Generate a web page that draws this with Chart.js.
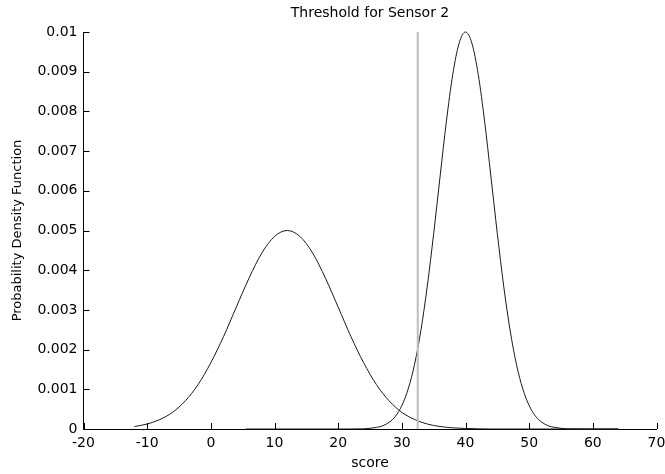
<!DOCTYPE html>
<html>
<head>
<meta charset="utf-8">
<script src="https://cdn.jsdelivr.net/npm/chart.js@4/dist/chart.umd.min.js"></script>
<style>
  html, body { margin: 0; padding: 0; background: #fff; }
  #wrap { width: 665px; height: 474px; }
</style>
</head>
<body>
<div id="wrap"><canvas id="c"></canvas></div>
<script>
// values
const sensorLowX = [-12, -10, -8, -6, -4, -2, 0, 2, 4, 6, 8, 10, 12, 14, 16, 18, 20, 22, 24, 26, 28, 30, 32, 34, 36, 38, 40, 42, 44, 48, 52, 56, 60, 64];
const sensorLowY = [0.000062, 0.000125, 0.00024, 0.00042, 0.00071, 0.00112, 0.00167, 0.00233, 0.00307, 0.0038, 0.00443, 0.00485, 0.005, 0.00485, 0.00443, 0.0038, 0.00307, 0.00233, 0.00167, 0.00112, 0.00071, 0.00042, 0.00024, 0.000125, 0.000062, 0.000029, 0.000013, 0.000005, 0, 0, 0, 0, 0, 0];

const sensorHighX = [5.5, 10, 15, 20, 24, 25, 26, 27, 28, 29, 30, 31, 32, 33, 34, 35, 36, 37, 38, 39, 40, 41, 42, 43, 44, 45, 46, 47, 48, 49, 50, 51, 52, 53, 54, 55, 56, 60, 64];
const sensorHighY = [0, 0, 0, 0, 0.000005, 0.000017, 0.00004, 0.00008, 0.00017, 0.00032, 0.00059, 0.00101, 0.00163, 0.00249, 0.0036, 0.00492, 0.00635, 0.00775, 0.00893, 0.00972, 0.01, 0.00972, 0.00893, 0.00775, 0.00635, 0.00492, 0.0036, 0.00249, 0.00163, 0.00101, 0.00059, 0.00032, 0.00017, 0.00008, 0.00004, 0.000017, 0.000005, 0, 0];

const thresholdX = 32.5;

const xTickLabels = ['-20', '-10', '0', '10', '20', '30', '40', '50', '60', '70'];
const yTickLabels = ['0', '0.001', '0.002', '0.003', '0.004', '0.005', '0.006', '0.007', '0.008', '0.009', '0.01'];

const toPoints = (xs, ys) => xs.map((x, i) => ({ x, y: ys[i] }));

const FONT = 'DejaVu Sans, Verdana, sans-serif';

// small inward tick marks like the original plot
const innerTicks = {
  id: 'innerTicks',
  afterDraw(chart) {
    const { ctx, chartArea: a } = chart;
    const xs = chart.scales.x, ys = chart.scales.y;
    ctx.save();
    ctx.strokeStyle = '#000';
    ctx.lineWidth = 1;
    ctx.beginPath();
    xs.ticks.forEach(t => {
      const px = Math.round(xs.getPixelForValue(t.value)) + 0.5;
      ctx.moveTo(px, a.bottom);
      ctx.lineTo(px, a.bottom - 6);
    });
    ys.ticks.forEach(t => {
      const py = Math.round(ys.getPixelForValue(t.value)) + 0.5;
      ctx.moveTo(a.left, py);
      ctx.lineTo(a.left + 6, py);
    });
    ctx.stroke();
    ctx.restore();
  }
};

new Chart(document.getElementById('c'), {
  type: 'line',
  data: {
    datasets: [
      {
        data: [{ x: thresholdX, y: 0 }, { x: thresholdX, y: 0.01 }],
        borderColor: '#bdbdbd', borderWidth: 2, pointRadius: 0, tension: 0
      },
      {
        data: toPoints(sensorLowX, sensorLowY),
        borderColor: '#1a1a1a', borderWidth: 1, pointRadius: 0,
        cubicInterpolationMode: 'monotone'
      },
      {
        data: toPoints(sensorHighX, sensorHighY),
        borderColor: '#1a1a1a', borderWidth: 1, pointRadius: 0,
        cubicInterpolationMode: 'monotone'
      }
    ]
  },
  options: {
    responsive: true,
    maintainAspectRatio: false,
    animation: false,
    clip: false,
    layout: { padding: { left: 0, right: 8.5, top: 0, bottom: 0 } },
    plugins: {
      legend: { display: false },
      tooltip: { enabled: false },
      title: {
        display: true,
        text: 'Threshold for Sensor 2',
        fullSize: false,
        color: '#000',
        font: { family: FONT, size: 14, weight: 'normal' },
        padding: { top: 5, bottom: 10.2 }
      }
    },
    scales: {
      x: {
        type: 'linear',
        min: -20, max: 70,
        afterFit(s) { s.height = 45; s.paddingLeft = 0; s.paddingRight = 0; },
        grid: { display: false, tickLength: 0 },
        border: { display: true, color: '#000', width: 1 },
        ticks: {
          stepSize: 10,
          padding: 6,
          color: '#000',
          font: { family: FONT, size: 14 },
          maxRotation: 0,
          callback: (v, i) => xTickLabels[i]
        },
        title: {
          display: true, text: 'score', color: '#000',
          font: { family: FONT, size: 14 },
          padding: { top: 0, bottom: 2 }
        }
      },
      y: {
        type: 'linear',
        min: 0, max: 0.01,
        afterFit(s) { s.width = 83.5; s.paddingTop = 0; s.paddingBottom = 0; },
        grid: { display: false, tickLength: 0 },
        border: { display: true, color: '#000', width: 1 },
        ticks: {
          stepSize: 0.001,
          padding: 6,
          color: '#000',
          font: { family: FONT, size: 14 },
          callback: (v, i) => yTickLabels[i]
        },
        title: {
          display: true, text: 'Probability Density Function', color: '#000',
          font: { family: FONT, size: 13 },
          padding: { top: 10, bottom: 0 }
        }
      }
    }
  },
  plugins: [innerTicks]
});
</script>
</body>
</html>
